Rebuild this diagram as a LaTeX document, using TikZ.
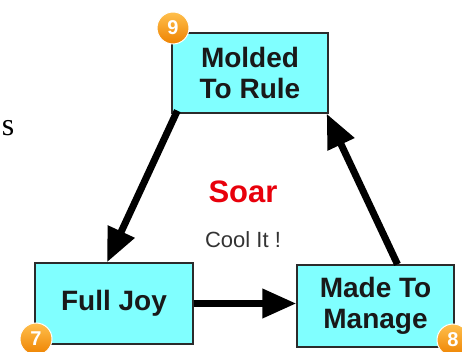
\documentclass[tikz,border=0pt]{standalone}
\usepackage{fontspec}
\setmainfont{Liberation Sans}
\newfontfamily\serifface{Liberation Serif}
\usetikzlibrary{arrows.meta}
\definecolor{stepfill}{HTML}{80FFFF}
\definecolor{stepdraw}{HTML}{2B2B2B}
\definecolor{badgetop}{HTML}{FFC04D}
\definecolor{badgebottom}{HTML}{EE8200}
\definecolor{soarred}{HTML}{E8000B}
\definecolor{coolgray}{HTML}{333333}

\begin{document}
\begin{tikzpicture}[x=1pt, y=1pt,
    stepbox/.style={rectangle, draw=stepdraw, line width=1.3pt, fill=stepfill,
        align=center, inner sep=0pt, text=black!90,
        font=\fontsize{28}{31}\selectfont\bfseries},
    badge/.style={circle, draw=white, line width=1pt, top color=badgetop,
        bottom color=badgebottom, minimum size=32pt, inner sep=0pt, text=white,
        font=\fontsize{20}{20}\selectfont\bfseries},
    flow/.style={line width=7pt, -{Triangle[length=34pt, width=28pt]}}]
    \useasboundingbox (0,0) rectangle (462,352);

    % Stray letter at the left edge
    \node[font=\serifface\fontsize{32}{32}\selectfont] (stray) at (8,224) {s};

    % Steps
    \node[stepbox, minimum width=156pt, minimum height=80pt] (mold) at (250,279)
        {Molded\\To Rule};
    \node[stepbox, minimum width=158pt, minimum height=81pt] (joy) at (114,48.5)
        {Full Joy};
    \node[stepbox, minimum width=157pt, minimum height=82pt] (manage) at (375.5,46)
        {Made To\\Manage};

    % Badges
    \node[badge] (b9) at (173,324) {9};
    \node[badge] (b7) at (36,13) {7};
    \node[badge] (b8) at (453,12) {8};

    % Arrows
    \draw[flow] ([shift={(6pt,3pt)}]mold.south west) -- ([xshift=-7pt]joy.north);
    \draw[flow] (joy.east) -- (joy.east -| manage.west);
    \draw[flow] ([xshift=22pt]manage.north) -- ([xshift=-2pt]mold.south east);

    % Centre text
    \node[text=soarred, font=\fontsize{31}{31}\selectfont\bfseries] (soar) at (243,160) {Soar};
    \node[text=coolgray, font=\fontsize{22}{22}\selectfont] (cool) at (243,112) {Cool It !};
\end{tikzpicture}
\end{document}
